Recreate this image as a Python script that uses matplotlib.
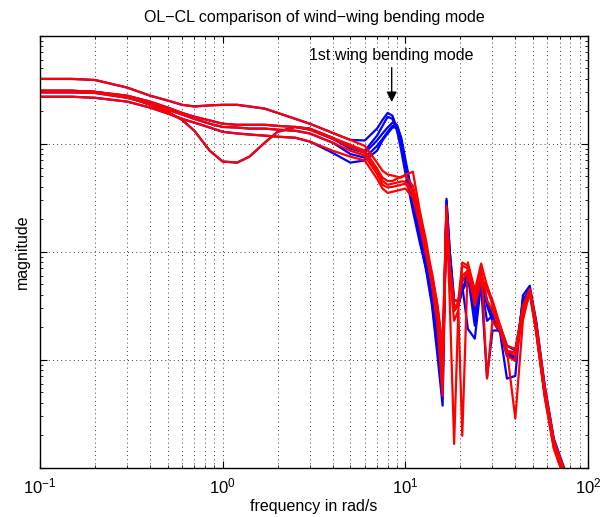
import numpy as np
import matplotlib
matplotlib.use('Agg')
import matplotlib.pyplot as plt
from matplotlib.ticker import LogLocator, NullFormatter

plt.rcParams['font.family'] = ['Liberation Sans', 'DejaVu Sans']

# frequencies in rad/s
freq_low = [0.1, 0.15, 0.2, 0.3, 0.4, 0.5, 0.6, 0.7, 0.85, 1.0, 1.2, 1.4, 1.7, 2.0]
freq_high = [2.5, 3, 4, 5, 6, 7, 7.5, 8, 8.5, 9, 9.5, 10, 11, 12, 13, 14, 15, 16, 16.8, 17.5,
             18.5, 19.5, 20.5, 22, 24, 26, 28, 30, 33, 36, 40, 44, 48, 52, 58, 65, 75, 85]

# low frequency part, open and closed loop are the same there (dB)
low_1 = [-8.0, -8.0, -8.2, -9.6, -11.1, -12.0, -12.8, -13.1, -12.9, -12.8, -12.8, -13.1, -13.5, -14.3]
low_2 = [-10.2, -10.2, -10.4, -11.3, -12.8, -14.1, -15.6, -17.6, -21.3, -23.3, -23.5, -22.4, -19.8, -17.8]
low_3 = [-10.2, -10.2, -10.4, -11.1, -12.2, -13.3, -14.3, -15.0, -15.7, -16.3, -16.5, -16.5, -16.5, -16.7]
low_4 = [-10.5, -10.5, -10.6, -11.5, -12.6, -13.7, -14.6, -15.4, -16.3, -16.9, -17.0, -17.2, -17.2, -17.4]
low_5 = [-11.3, -11.3, -11.5, -12.2, -13.3, -14.4, -15.4, -16.1, -17.0, -17.8, -18.1, -18.3, -18.5, -18.7]

# open loop (blue), dB
ol_1 = [-15.4, -16.3, -18.0, -19.3, -19.4, -17.2, -15.6, -14.3, -14.8, -17.2, -21.3, -25.4, -32.4, -38.3,
        -43.1, -48.1, -55.6, -61.1, -30.6, -39.8, -49.1, -49.1, -47.2, -45.4, -49.1, -43.9, -49.1, -50.9,
        -53.7, -57.4, -58.3, -50.0, -47.2, -53.7, -65.7, -75.0, -80.9, -86.5]
ol_2 = [-16.9, -17.2, -18.9, -20.6, -21.3, -18.5, -16.7, -15.0, -15.4, -17.6, -20.7, -24.6, -31.5, -37.6,
        -42.6, -48.7, -56.5, -62.0, -31.5, -41.7, -50.0, -50.0, -47.2, -44.4, -50.9, -46.3, -63.3, -54.6,
        -54.6, -59.3, -59.3, -50.9, -47.6, -54.6, -66.7, -75.9, -82.0, -87.6]
ol_3 = [-16.9, -17.4, -19.1, -20.9, -21.7, -19.4, -18.1, -17.0, -16.1, -16.5, -18.9, -22.8, -30.0, -36.5,
        -42.0, -49.1, -57.4, -63.0, -32.4, -42.6, -49.1, -49.1, -46.3, -54.3, -56.1, -45.9, -52.8, -51.9,
        -54.3, -58.3, -60.2, -49.1, -46.9, -53.1, -65.4, -75.0, -81.1, -86.7]
ol_4 = [-17.6, -18.1, -19.8, -21.9, -22.6, -20.4, -19.1, -17.8, -16.7, -16.7, -19.4, -23.5, -30.6, -37.0,
        -43.0, -49.4, -58.3, -63.9, -32.4, -41.7, -50.9, -50.0, -47.2, -43.9, -51.9, -45.4, -49.1, -51.9,
        -54.6, -58.7, -60.2, -49.1, -46.9, -54.3, -66.3, -75.9, -82.0, -87.6]
ol_5 = [-18.9, -19.6, -21.7, -23.5, -23.1, -21.3, -19.4, -18.1, -17.0, -17.0, -20.0, -24.1, -31.1, -37.6,
        -43.5, -50.0, -59.3, -68.5, -30.2, -39.8, -49.1, -49.1, -45.4, -44.4, -53.7, -44.4, -50.0, -52.8,
        -55.0, -63.5, -63.0, -48.1, -46.3, -52.8, -64.8, -74.6, -80.6, -86.1]

# closed loop (red), dB
cl_1 = [-15.4, -16.3, -18.0, -19.3, -20.4, -23.5, -25.0, -25.7, -25.9, -26.1, -26.3, -25.7, -25.2, -32.4,
        -38.0, -44.4, -50.0, -57.4, -32.4, -43.5, -50.9, -49.1, -42.0, -42.6, -47.2, -42.2, -46.3, -49.1,
        -53.7, -57.4, -58.0, -50.9, -47.2, -53.7, -65.7, -75.0, -80.9, -86.5]
cl_2 = [-16.9, -17.2, -18.9, -20.2, -21.3, -24.6, -26.3, -26.9, -26.9, -26.5, -26.1, -25.9, -27.8, -33.3,
        -38.9, -45.4, -51.9, -60.2, -33.3, -49.1, -75.6, -50.9, -42.6, -43.1, -49.1, -42.6, -63.5, -52.8,
        -54.6, -59.3, -60.2, -51.9, -47.8, -55.0, -67.0, -76.5, -82.4, -88.0]
cl_3 = [-16.9, -17.4, -19.1, -20.6, -21.7, -25.0, -26.9, -27.6, -27.4, -27.2, -27.0, -27.0, -28.7, -33.9,
        -39.4, -43.9, -50.0, -58.3, -31.5, -44.4, -52.8, -50.9, -74.1, -42.0, -47.2, -44.4, -47.2, -49.1,
        -53.7, -58.3, -70.9, -52.8, -47.2, -53.7, -65.7, -75.4, -81.5, -87.0]
cl_4 = [-17.6, -18.1, -19.8, -21.3, -22.2, -25.6, -27.6, -28.1, -28.0, -27.8, -27.6, -27.4, -29.3, -34.6,
        -40.2, -46.3, -53.7, -66.7, -33.3, -43.5, -50.9, -50.0, -44.4, -43.5, -50.0, -45.4, -46.3, -50.0,
        -54.3, -58.3, -59.3, -50.9, -47.2, -54.6, -66.7, -76.3, -82.4, -88.0]
cl_5 = [-18.9, -19.6, -21.3, -22.4, -23.1, -26.5, -28.3, -29.1, -28.9, -28.7, -28.5, -28.3, -30.0, -35.2,
        -40.7, -45.7, -52.8, -62.0, -32.8, -42.6, -49.1, -49.1, -45.4, -43.5, -48.1, -43.5, -49.1, -50.9,
        -54.6, -58.3, -58.7, -50.0, -46.9, -53.1, -65.2, -75.0, -80.9, -86.5]

lows = [low_1, low_2, low_3, low_4, low_5]
ols = [ol_1, ol_2, ol_3, ol_4, ol_5]
cls = [cl_1, cl_2, cl_3, cl_4, cl_5]

fig = plt.figure(figsize=(6.07, 5.17), dpi=100)
ax = fig.add_axes([0.0659, 0.0954, 0.9028, 0.8355])

w = np.array(freq_low + freq_high)
for lo, ol in zip(lows, ols):
    ax.loglog(w, 10 ** (np.array(lo + ol) / 20), color=(0, 0, 1), lw=1.6)
for lo, cl in zip(lows, cls):
    ax.loglog(w, 10 ** (np.array(lo + cl) / 20), color=(1, 0, 0), lw=1.6)

ax.set_xlim(0.1, 100)
ax.set_ylim(1e-4, 1)
ax.yaxis.set_major_formatter(NullFormatter())
ax.yaxis.set_minor_formatter(NullFormatter())
ax.xaxis.set_minor_locator(LogLocator(base=10, subs=np.arange(2, 10)))
ax.xaxis.set_minor_formatter(NullFormatter())

ax.grid(True, which='major', axis='both', color='k', linestyle=(0, (1, 4)), lw=0.6)
ax.grid(True, which='minor', axis='x', color='k', linestyle=(0, (1, 4)), lw=0.6)
ax.tick_params(which='both', direction='in', top=True, right=True, labelsize=12, pad=6)
ax.tick_params(which='major', length=5)
ax.tick_params(which='minor', length=2.5)
for s in ax.spines.values():
    s.set_linewidth(1.0)

ax.set_title('OL\u2212CL comparison of wind\u2212wing bending mode', fontsize=11.5, pad=10)
ax.set_xlabel('frequency in rad/s', fontsize=11.5, labelpad=2)
ax.set_ylabel('magnitude', fontsize=11.5, labelpad=1.5)

# 1st wing bending mode marker
ax.annotate('', xy=(8.42, 10 ** (-12.8 / 20)), xytext=(8.42, 10 ** (-5.4 / 20)),
            arrowprops=dict(arrowstyle='-|>', color='k', lw=1.0, mutation_scale=15))
ax.text(8.42, 10 ** (-5.1 / 20), '1st wing bending mode', ha='center', va='bottom', fontsize=11.5)

plt.savefig('out.png', dpi=100)
